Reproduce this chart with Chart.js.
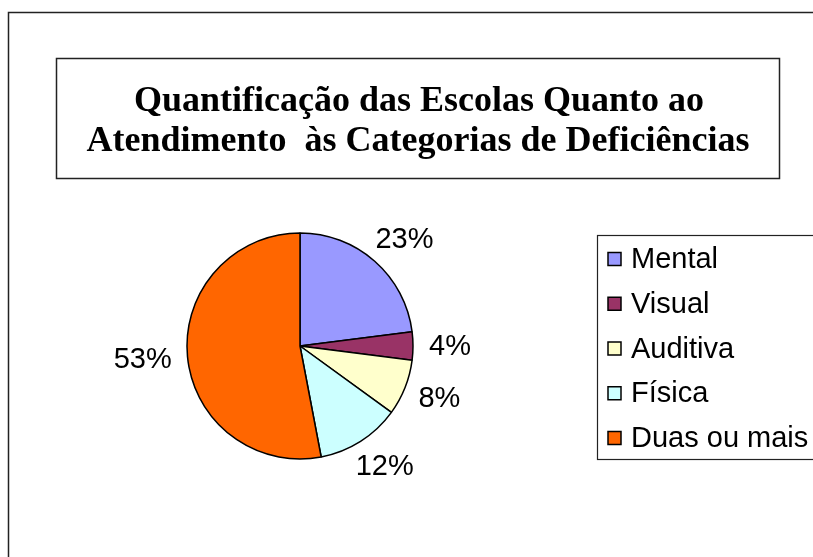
<!DOCTYPE html>
<html><head><meta charset="utf-8">
<script src="https://cdn.jsdelivr.net/npm/chart.js@4/dist/chart.umd.min.js"></script>
<style>html,body{margin:0;padding:0;background:#fff;overflow:hidden}canvas{display:block}</style>
</head><body>
<canvas id="c" width="813" height="557"></canvas>
<script>
const titleLines = ["Quantificação das Escolas Quanto ao", "Atendimento  às Categorias de Deficiências"];
const categories = ["Mental", "Visual", "Auditiva", "Física", "Duas ou mais"];
const percentValues = [23, 4, 8, 12, 53];
const sliceColors = ["#9999FF", "#993366", "#FFFFCC", "#CCFFFF", "#FF6600"];

const decorPlugin = {
  id: 'decor',
  afterDraw(chart) {
    const ctx = chart.ctx;
    ctx.save();
    // outer frame
    ctx.strokeStyle = '#222';
    ctx.lineWidth = 1.5;
    ctx.strokeRect(8.5, 12.5, 900, 700);
    // title box
    ctx.strokeRect(56.5, 58.5, 723, 120);
    ctx.fillStyle = '#000';
    ctx.font = 'bold 36px "Liberation Serif", "Times New Roman", serif';
    ctx.textAlign = 'center';
    ctx.textBaseline = 'alphabetic';
    ctx.fillText(titleLines[0], 419, 111);
    ctx.fillText(titleLines[1], 418, 151);
    // legend box
    ctx.lineWidth = 1.2;
    ctx.strokeRect(597.5, 235.5, 300, 224);
    ctx.font = '29px "Liberation Sans", Arial, sans-serif';
    ctx.textAlign = 'left';
    ctx.textBaseline = 'middle';
    categories.forEach((lab, i) => {
      const cy = 259 + i * 44.75;
      ctx.fillStyle = sliceColors[i];
      ctx.fillRect(608, cy - 6.5, 13, 13);
      ctx.strokeStyle = '#000';
      ctx.lineWidth = 1.5;
      ctx.strokeRect(608, cy - 6.5, 13, 13);
      ctx.fillStyle = '#000';
      ctx.fillText(lab, 631, cy + 1);
    });
    // percent labels
    const meta = chart.getDatasetMeta(0);
    ctx.font = '29px "Liberation Sans", Arial, sans-serif';
    ctx.textAlign = 'center';
    ctx.textBaseline = 'middle';
    meta.data.forEach((arc, i) => {
      const p = arc.getProps(['x', 'y', 'startAngle', 'endAngle', 'outerRadius'], true);
      const mid = (p.startAngle + p.endAngle) / 2;
      const dx = Math.cos(mid), dy = Math.sin(mid);
      const txt = percentValues[i] + '%';
      const w = ctx.measureText(txt).width;
      const h = 26;
      const g = 16;
      const cx = p.x + dx * (p.outerRadius + g) + dx * w / 2;
      const cy = p.y + dy * (p.outerRadius + g) + dy * h / 2;
      ctx.fillStyle = '#000';
      ctx.fillText(txt, cx, cy + 1);
    });
    ctx.restore();
  }
};

new Chart(document.getElementById('c'), {
  type: 'pie',
  data: {
    labels: categories,
    datasets: [{
      data: percentValues,
      backgroundColor: sliceColors,
      borderColor: '#000',
      borderWidth: 1.5
    }]
  },
  options: {
    responsive: false,
    devicePixelRatio: 1,
    animation: false,
    radius: 113,
    layout: { padding: { left: 150, right: 363, top: 196, bottom: 61 } },
    plugins: { legend: { display: false }, title: { display: false }, tooltip: { enabled: false } }
  },
  plugins: [decorPlugin]
});
</script>
</body></html>
